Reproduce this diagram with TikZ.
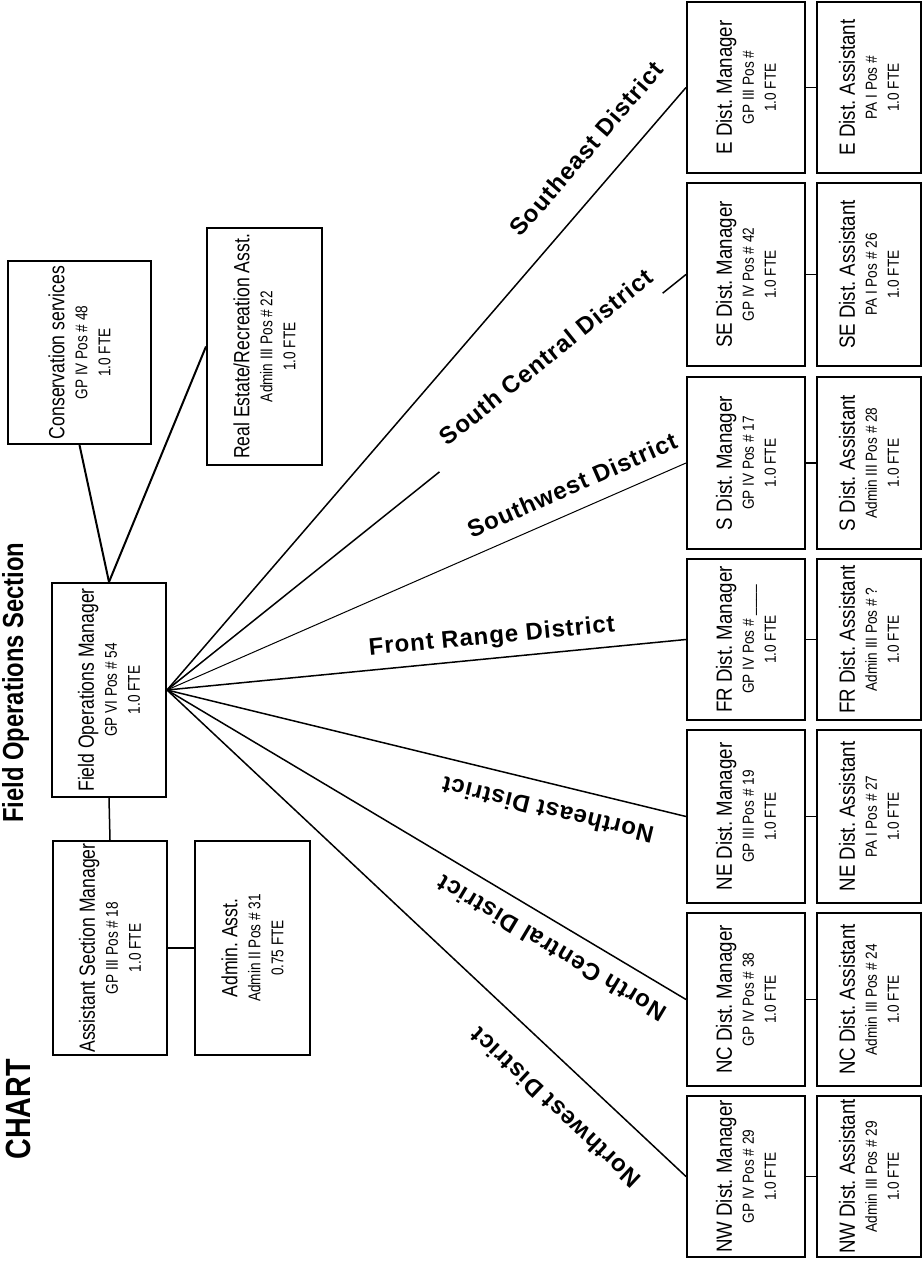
\documentclass[tikz,border=0pt]{standalone}
\usepackage{fontspec}
\setmainfont{Liberation Sans}
\newfontfamily\boxfont[FakeStretch=0.8]{Liberation Sans}
\newfontfamily\distfont[FakeStretch=0.85]{Liberation Sans}
\newfontfamily\titlefont[FakeStretch=0.82]{Liberation Sans}
\newfontfamily\labelfont[LetterSpace=4]{Liberation Sans}
\newcommand{\firstline}{\fontsize{11}{11.5}\selectfont}
\frenchspacing

\tikzset{
  post/.style={draw, line width=1pt, rotate=90, inner sep=0pt, align=center,
    font=\boxfont\fontsize{8.5}{11.5}\selectfont},
  distpost/.style={post, font=\distfont\fontsize{8}{11}\selectfont},
  dlabel/.style={sloped, inner sep=0pt, font=\labelfont\bfseries\fontsize{12}{14}\selectfont},
  link/.style={line width=0.75pt},
  title/.style={rotate=90, anchor=base west, inner sep=0pt},
}

\begin{document}
\begin{tikzpicture}[x=0.5pt,y=-0.5pt]
  \useasboundingbox (0,0) rectangle (924,1262);

%%%%%%%%%%%%%%%%%%%%%%%%%%%%%%%%%%%%%%%%%%
  % Titles
  \node[title, font=\titlefont\bfseries\fontsize{17.5}{20}\selectfont] (chart) at (30,1160) {CHART};
  \node[title, font=\titlefont\bfseries\fontsize{14.5}{17}\selectfont] (section) at (23,823) {Field Operations Section};

%%%%%%%%%%%%%%%%%%%%%%%%%%%%%%%%%%%%%%%%%%
  % Section office
  \node[post, minimum width=91.5pt, minimum height=71.5pt] (cons) at (79.5,352.5)
    {{\firstline Conservation services}\\GP IV Pos \# 48\\1.0 FTE};
  \node[post, minimum width=118.5pt, minimum height=57.5pt] (re) at (264.5,346.5)
    {{\firstline Real Estate/Recreation Asst.}\\Admin III Pos \# 22\\1.0 FTE};
  \node[post, minimum width=107pt, minimum height=57pt] (fom) at (109,690)
    {{\firstline Field Operations Manager}\\GP VI Pos \# 54\\1.0 FTE};
  \node[post, minimum width=107pt, minimum height=57pt] (asm) at (110,948)
    {{\firstline Assistant Section Manager}\\GP III Pos \# 18\\1.0 FTE};
  \node[post, minimum width=107pt, minimum height=57.5pt] (adm) at (252.5,948)
    {{\firstline Admin. Asst.}\\Admin II Pos \# 31\\0.75 FTE};

  \draw[line width=1pt] (cons.west) -- (fom.east);
  \draw[line width=1pt] (re.north) -- (fom.east);
  \draw[link] (fom.west) -- (asm.east);
  \draw[link] (asm.south) -- (adm.north);

%%%%%%%%%%%%%%%%%%%%%%%%%%%%%%%%%%%%%%%%%%
  % District managers
  \node[distpost, minimum width=85.5pt, minimum height=59pt] (em) at (746,87.5)
    {{\firstline E Dist. Manager}\\GP III Pos \#\\1.0 FTE};
  \node[distpost, minimum width=91.5pt, minimum height=59pt] (sem) at (746,274.5)
    {{\firstline SE Dist. Manager}\\GP IV Pos \# 42\\1.0 FTE};
  \node[distpost, minimum width=86pt, minimum height=59pt] (sm) at (746,463)
    {{\firstline S Dist. Manager}\\GP IV Pos \# 17\\1.0 FTE};
  \node[distpost, minimum width=80.5pt, minimum height=59pt] (frm) at (746,639.5)
    {{\firstline FR Dist. Manager}\\GP IV Pos \# \_\_\_\_\\1.0 FTE};
  \node[distpost, minimum width=86.5pt, minimum height=59pt] (nem) at (746,816.5)
    {{\firstline NE Dist. Manager}\\GP III Pos \# 19\\1.0 FTE};
  \node[distpost, minimum width=86.5pt, minimum height=59pt] (ncm) at (746,999.5)
    {{\firstline NC Dist. Manager}\\GP IV Pos \# 38\\1.0 FTE};
  \node[distpost, minimum width=80.5pt, minimum height=59pt] (nwm) at (746,1176.5)
    {{\firstline NW Dist. Manager}\\GP IV Pos \# 29\\1.0 FTE};

  % District assistants
  \node[distpost, minimum width=85.5pt, minimum height=52pt] (ea) at (869,87.5)
    {{\firstline E Dist. Assistant}\\PA I Pos \#\\1.0 FTE};
  \node[distpost, minimum width=91.5pt, minimum height=52pt] (sea) at (869,274.5)
    {{\firstline SE Dist. Assistant}\\PA I Pos \# 26\\1.0 FTE};
  \node[distpost, minimum width=86pt, minimum height=52pt] (sa) at (869,463)
    {{\firstline S Dist. Assistant}\\Admin III Pos \# 28\\1.0 FTE};
  \node[distpost, minimum width=80.5pt, minimum height=52pt] (fra) at (869,639.5)
    {{\firstline FR Dist. Assistant}\\Admin III Pos \# ?\\1.0 FTE};
  \node[distpost, minimum width=86.5pt, minimum height=52pt] (nea) at (869,816.5)
    {{\firstline NE Dist. Assistant}\\PA I Pos \# 27\\1.0 FTE};
  \node[distpost, minimum width=86.5pt, minimum height=52pt] (nca) at (869,999.5)
    {{\firstline NC Dist. Assistant}\\Admin III Pos \# 24\\1.0 FTE};
  \node[distpost, minimum width=80.5pt, minimum height=52pt] (nwa) at (869,1176.5)
    {{\firstline NW Dist. Assistant}\\Admin III Pos \# 29\\1.0 FTE};

  \draw[link] (em.south) -- (ea.north);
  \draw[link] (sem.south) -- (sea.north);
  \draw[link] (sm.south) -- (sa.north);
  \draw[link] (frm.south) -- (fra.north);
  \draw[link] (nem.south) -- (nea.north);
  \draw[link] (ncm.south) -- (nca.north);
  \draw[link] (nwm.south) -- (nwa.north);

%%%%%%%%%%%%%%%%%%%%%%%%%%%%%%%%%%%%%%%%%%
  % Fan to the districts
  \draw[link] (fom.south) -- node[dlabel, pos=0.86, above=13pt] (selab) {Southeast District} (em.north);

  % South Central line is broken under its label
  \path (fom.south) -- (sem.north)
    coordinate[pos=0.525] (sca) coordinate[pos=0.955] (scb)
    node[dlabel, pos=0.758, above=7pt] (sclab) {South Central District};
  \draw[link] (fom.south) -- (sca);
  \draw[link] (scb) -- (sem.north);

  \draw[line width=0.5pt] (fom.south) -- node[dlabel, pos=0.8, above=8pt] (swlab) {Southwest District} (sm.north);
  \draw[link] (fom.south) -- node[dlabel, pos=0.63, above=4.5pt] (frlab) {Front Range District} (frm.north);

  % upside down labels
  \draw[link] (nem.north) -- node[dlabel, allow upside down, pos=0.254, above=8.75pt] (nelab) {Northeast District} (fom.south);
  \draw[link] (ncm.north) -- node[dlabel, allow upside down, pos=0.234, above=7.75pt] (nclab) {North Central District} (fom.south);
  \draw[link] (nwm.north) -- node[dlabel, allow upside down, pos=0.2, above=15pt] (nwlab) {Northwest District} (fom.south);

\end{tikzpicture}
\end{document}
